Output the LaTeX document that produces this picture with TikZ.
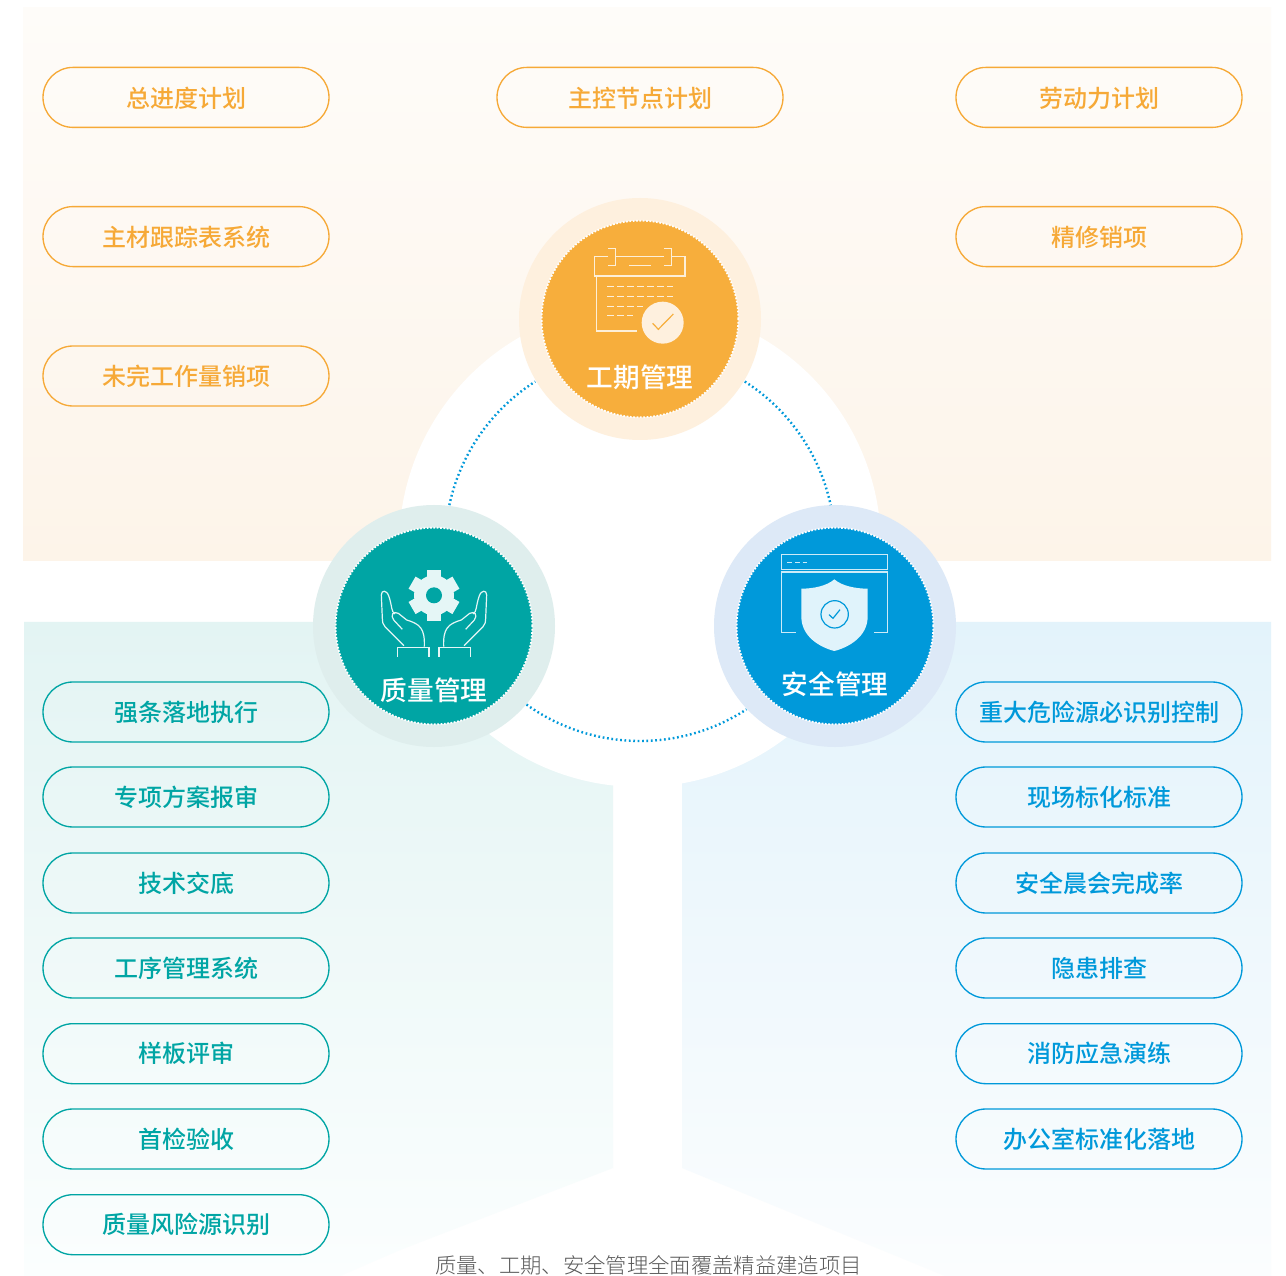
\documentclass[tikz,border=0pt]{standalone}
\usepackage{fontspec}
\setmainfont{Noto Sans CJK SC}
\newfontfamily\cjkm{Noto Sans CJK SC Medium}
\newfontfamily\cjkl{Noto Sans CJK SC Light}
\definecolor{org}{HTML}{F7AE3C}
\definecolor{tea}{HTML}{00A5A4}
\definecolor{blu}{HTML}{0099DA}
\definecolor{orgtxt}{HTML}{F6A937}
\definecolor{orghalo}{HTML}{FEF0DE}
\definecolor{teahalo}{HTML}{DFEEED}
\definecolor{bluhalo}{HTML}{DDE9F7}
\definecolor{orgtop}{HTML}{FEFCF9}
\definecolor{orgbot}{HTML}{FDF4E9}
\definecolor{teatop}{HTML}{E3F4F3}
\definecolor{blutop}{HTML}{E3F3FB}
\definecolor{teabot}{HTML}{FBFEFE}
\definecolor{blubot}{HTML}{FBFDFE}
\tikzset{
 pillbox/.style={draw=#1,text=#1,line width=1pt,rounded corners=22.5pt,minimum width=214.5pt,minimum height=45pt,inner sep=0pt,font=\cjkm\fontsize{18}{18}\selectfont},
 halo/.style={circle,fill=#1,minimum size=181.5pt,inner sep=0pt},
 core/.style={circle,fill=#1,draw=white,line width=1.3pt,dash pattern=on 1.3pt off 1.2pt,minimum size=147.5pt,inner sep=0pt},
 biglabel/.style={text=white,font=\cjkm\fontsize{20}{20}\selectfont,inner sep=0pt},
 orbit/.style={draw=blu,line width=1.8pt,line cap=butt,dash pattern=on 1.3pt off 2pt},
 icon/.style={x=0.25pt,y=-0.25pt,line width=0.9pt,line cap=butt},
}
\begin{document}
\begin{tikzpicture}[x=0.75pt,y=-0.75pt]
\useasboundingbox (0,0) rectangle (1286,1276);
\fill[white] (0,0) rectangle (1286,1276);
% panels
\path[top color=orgtop,bottom color=orgbot] (23,8) rectangle (1271,560.5);
\path[top color=teatop,bottom color=teabot] (24,622) -- (613,622) -- (613,1168) -- (400,1250) -- (340,1276) -- (24,1276) -- cycle;
\path[top color=blutop,bottom color=blubot] (682,622) -- (1271,622) -- (1271,1276) -- (945,1276) -- (682,1168) -- cycle;
\coordinate (hub) at (640,546);
\fill[white] (hub) circle[radius=241];
% nodes
\node[halo=orghalo] (h1) at (640,319) {};
\node[halo=teahalo] (h2) at (434,626) {};
\node[halo=bluhalo] (h3) at (835,626) {};
\node[core=org] (c1) at (640,319) {};
\node[core=tea] (c2) at (434,626) {};
\node[core=blu] (c3) at (835,626) {};
\node[biglabel] (l1) at (640,377) {工期管理};
\node[biglabel] (l2) at (434,690) {质量管理};
\node[biglabel] (l3) at (835,684) {安全管理};
% orbit
\draw[orbit] (hub) ++(192.1:195) arc[start angle=192.1,end angle=237.5,radius=195];
\draw[orbit] (hub) ++(302.5:195) arc[start angle=302.5,end angle=347.9,radius=195];
\draw[orbit] (hub) ++(125.6:195) arc[start angle=125.6,end angle=56.9,radius=195];
% calendar
\begin{scope}[shift={(510,190)},icon]
\draw[white!80!org] (295,199)--(254,199)--(254,258)--(525,258)--(525,199)--(485,199);
\draw[white!80!org] (295,175)--(317,175)--(317,226)--(295,226);
\draw[white!80!org] (463,175)--(485,175)--(485,226)--(463,226);
\draw[white!80!org] (317,199)--(463,199) (358,226)--(422,226);
\draw[white!80!org] (260,258)--(260,423)--(380,423);
\draw[white!80!org,dash pattern=on 5pt off 2.5pt,line width=0.75pt] (291,291)--(489,291) (291,320)--(489,320) (291,349)--(398,349) (291,378)--(368,378);
\fill[orghalo] (458,398) circle[radius=63];
\draw[org] (428,400)--(445,418)--(490,372);
\end{scope}
% gear and hands
\begin{scope}[shift={(305,500)},icon]
\foreach \a in {0,60,...,300}{\fill[white!90!tea,shift={(387,286)},rotate=\a] (-21,-76) rectangle (21,0);}
\fill[white!90!tea] (387,286) circle[radius=60];
\fill[tea] (387,286) circle[radius=24];
\foreach \s/\o in {1/0,-1/774}{
\begin{scope}[shift={(\o,0)},xscale=\s]
\draw[white!90!tea] (297,437)--(240,380) .. controls (233,372) and (233,368) .. (232,355) -- (229,285) .. controls (229,270) and (245,268) .. (252,290) .. controls (262,320) and (258,335) .. (270,342);
\draw[white!90!tea] (292,388)--(266,360) .. controls (255,345) and (265,332) .. (280,340) -- (305,360) .. controls (345,372) and (360,385) .. (358,440);
\draw[white!90!tea] (278,470)--(278,442)--(372,442)--(372,470);
\end{scope}}
\end{scope}
% shield
\begin{scope}[shift={(705,500)},icon]
\draw[white!80!blu] (229,163) rectangle (548,209);
\draw[white!80!blu,dash pattern=on 3.5pt off 2.25pt] (247,187)--(307,187);
\draw[white!80!blu] (272,397)--(229,397)--(229,216)--(548,216)--(548,397)--(506,397);
\fill[white!88!blu] (388,238) .. controls (365,258) and (325,266) .. (289,266) -- (289,350) .. controls (289,410) and (345,442) .. (388,453) .. controls (431,442) and (488,410) .. (488,350) -- (488,266) .. controls (452,266) and (411,258) .. (388,238) -- cycle;
\draw[blu] (389,343) circle[radius=41];
\draw[blu] (372,344)--(384,355)--(405,329);
\end{scope}
% pills
\foreach \n/\x/\y/\t in {a1/186/97.4/总进度计划,a4/640/97.4/主控节点计划,a5/1099/97.4/劳动力计划}
 \node[pillbox=orgtxt,text depth=0pt] (\n) at (\x,\y) {\t};
\foreach \n/\x/\y/\t in {a2/186/236.6/主材跟踪表系统,a6/1099/236.6/精修销项}
 \node[pillbox=orgtxt,text depth=1pt] (\n) at (\x,\y) {\t};
\node[pillbox=orgtxt] (a3) at (186,376) {未完工作量销项};
\foreach \n/\y/\t in {b1/712/强条落地执行,b2/797/专项方案报审,b3/883/技术交底,b4/968/工序管理系统,b5/1053.7/样板评审,b6/1139/首检验收,b7/1224.7/质量风险源识别}
 \node[pillbox=tea] (\n) at (186,\y) {\t};
\foreach \n/\y/\t in {d1/712/重大危险源必识别控制,d2/797/现场标化标准,d3/883/安全晨会完成率,d4/968/隐患排查,d5/1053.7/消防应急演练,d6/1139/办公室标准化落地}
 \node[pillbox=blu] (\n) at (1099,\y) {\t};
\node[text=black!65,font=\cjkl\fontsize{16}{16}\selectfont,inner sep=0pt] (cap) at (648.5,1265.5) {质量、工期、安全管理全面覆盖精益建造项目};
\end{tikzpicture}
\end{document}
